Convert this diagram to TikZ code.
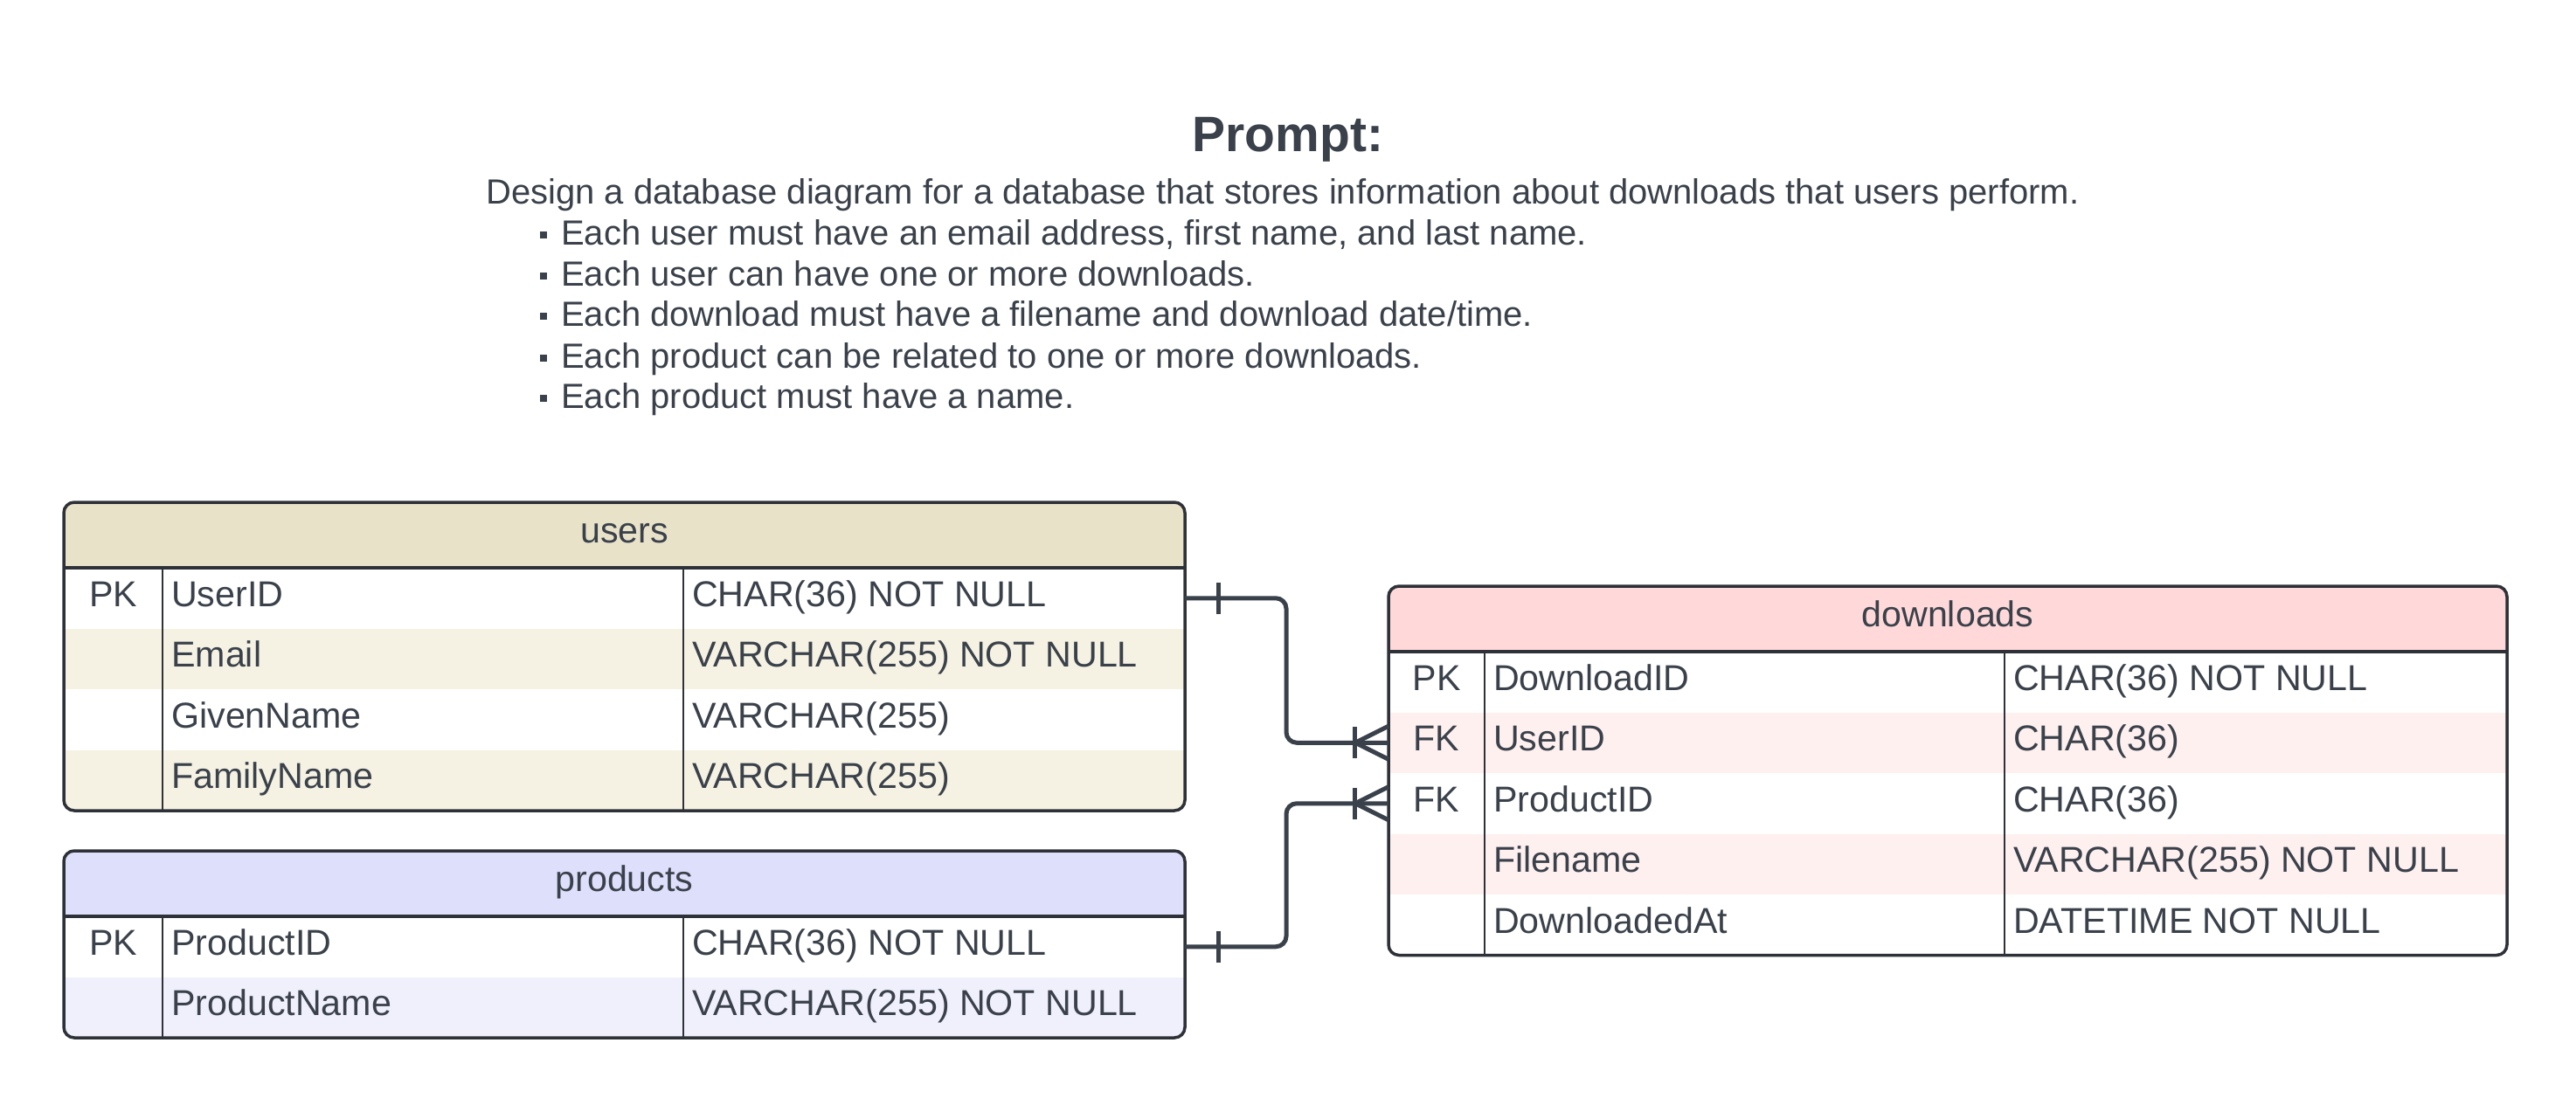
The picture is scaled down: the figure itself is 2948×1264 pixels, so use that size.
\documentclass[tikz,border=0pt]{standalone}
\usepackage{fontspec}
\setmainfont{Liberation Sans}
\usetikzlibrary{calc}
\definecolor{ink}{HTML}{3A414A}
\definecolor{edge}{HTML}{2E3238}
\definecolor{uhead}{HTML}{E8E2C9}
\definecolor{urow}{HTML}{F5F2E3}
\definecolor{phead}{HTML}{DEDFFB}
\definecolor{prow}{HTML}{F0F0FD}
\definecolor{dhead}{HTML}{FFD9D9}
\definecolor{drow}{HTML}{FFF0F0}
\newcommand\tbframe[9]{% #1 left #2 col1 #3 col2 #4 right #5 top #6 bottom #7 head colour #8 alt colour #9 alt rows
  \begin{scope}
    \clip[rounded corners=12pt] (#1,#5) rectangle (#4,#6);
    \fill[white] (#1,#5) rectangle (#4,#6);
    \fill[#7] (#1,#5) rectangle (#4,#5+75);
    \foreach \r in {#9} {\fill[#8] (#1,{#5+75+69.5*(\r-1)}) rectangle (#4,{#5+75+69.5*\r});}
  \end{scope}
  \draw[colline] (#2,#5+75) -- (#2,#6);
  \draw[colline] (#3,#5+75) -- (#3,#6);
  \draw[headline] (#1,#5+75) -- (#4,#5+75);
  \draw[frame] (#1,#5) rectangle (#4,#6);
}
\begin{document}
\begin{tikzpicture}[x=1pt,y=-1pt,
  txt/.style={inner sep=0pt, text=ink, font=\fontsize{41.2}{48}\selectfont},
  body/.style={inner sep=0pt, text=ink, font=\fontsize{40}{47}\selectfont, anchor=base west},
  frame/.style={draw=edge, line width=3.5pt, rounded corners=12pt},
  colline/.style={draw=edge, line width=2.5pt},
  headline/.style={draw=edge, line width=4pt},
  rowbox/.style={inner sep=0pt, outer sep=0pt, minimum height=69.5pt, anchor=north west},
  link/.style={draw=ink, line width=5pt, rounded corners=12pt},
  tickmark/.style={draw=ink, line width=5pt}]
\useasboundingbox (0,0) rectangle (2948,1264);
\fill[white] (0,0) rectangle (2948,1264);

% Prompt
\node[inner sep=0pt, text=ink, font=\fontsize{57}{64}\selectfont\bfseries, anchor=base] (title) at (1474,173) {Prompt:};
\node[body] (p0) at (556,233) {Design a database diagram for a database that stores information about downloads that users perform.};
\node[body] (p1) at (618,280) {\rule[7pt]{8pt}{8pt}\hspace{16pt}Each user must have an email address, first name, and last name.};
\node[body] (p2) at (618,327) {\rule[7pt]{8pt}{8pt}\hspace{16pt}Each user can have one or more downloads.};
\node[body] (p3) at (618,373) {\rule[7pt]{8pt}{8pt}\hspace{16pt}Each download must have a filename and download date/time.};
\node[body] (p4) at (618,421) {\rule[7pt]{8pt}{8pt}\hspace{16pt}Each product can be related to one or more downloads.};
\node[body] (p5) at (618,467) {\rule[7pt]{8pt}{8pt}\hspace{16pt}Each product must have a name.};

% users table
\tbframe{73}{186}{782}{1356}{575}{928}{uhead}{urow}{2,4}
\foreach \i in {1,...,4} {\node[rowbox, minimum width=1283pt] (u\i) at (73,{650+69.5*(\i-1)}) {};}
\node[txt, anchor=base] (uh) at (714.5,621) {users};
\node[txt, anchor=base] (u1k) at (129.5,694) {PK};
\node[txt, anchor=base west] (u1n) at (196,694) {UserID};
\node[txt, anchor=base west] (u1t) at (792,694) {CHAR(36) NOT NULL};
\node[txt, anchor=base west] (u2n) at (196,763.5) {Email};
\node[txt, anchor=base west] (u2t) at (792,763.5) {VARCHAR(255) NOT NULL};
\node[txt, anchor=base west] (u3n) at (196,833) {GivenName};
\node[txt, anchor=base west] (u3t) at (792,833) {VARCHAR(255)};
\node[txt, anchor=base west] (u4n) at (196,902.5) {FamilyName};
\node[txt, anchor=base west] (u4t) at (792,902.5) {VARCHAR(255)};

% products table
\tbframe{73}{186}{782}{1356}{974}{1188}{phead}{prow}{2}
\foreach \i in {1,2} {\node[rowbox, minimum width=1283pt] (pr\i) at (73,{1049+69.5*(\i-1)}) {};}
\node[txt, anchor=base] (ph) at (714.5,1020) {products};
\node[txt, anchor=base] (pr1k) at (129.5,1093) {PK};
\node[txt, anchor=base west] (pr1n) at (196,1093) {ProductID};
\node[txt, anchor=base west] (pr1t) at (792,1093) {CHAR(36) NOT NULL};
\node[txt, anchor=base west] (pr2n) at (196,1162.5) {ProductName};
\node[txt, anchor=base west] (pr2t) at (792,1162.5) {VARCHAR(255) NOT NULL};

% downloads table
\tbframe{1589}{1699}{2294}{2869}{671}{1093.5}{dhead}{drow}{2,4}
\foreach \i in {1,...,5} {\node[rowbox, minimum width=1280pt] (d\i) at (1589,{746+69.5*(\i-1)}) {};}
\node[txt, anchor=base] (dh) at (2229,717) {downloads};
\node[txt, anchor=base] (d1k) at (1644,790) {PK};
\node[txt, anchor=base west] (d1n) at (1709,790) {DownloadID};
\node[txt, anchor=base west] (d1t) at (2304,790) {CHAR(36) NOT NULL};
\node[txt, anchor=base] (d2k) at (1644,859.5) {FK};
\node[txt, anchor=base west] (d2n) at (1709,859.5) {UserID};
\node[txt, anchor=base west] (d2t) at (2304,859.5) {CHAR(36)};
\node[txt, anchor=base] (d3k) at (1644,929) {FK};
\node[txt, anchor=base west] (d3n) at (1709,929) {ProductID};
\node[txt, anchor=base west] (d3t) at (2304,929) {CHAR(36)};
\node[txt, anchor=base west] (d4n) at (1709,998.5) {Filename};
\node[txt, anchor=base west] (d4t) at (2304,998.5) {VARCHAR(255) NOT NULL};
\node[txt, anchor=base west] (d5n) at (1709,1068) {DownloadedAt};
\node[txt, anchor=base west] (d5t) at (2304,1068) {DATETIME NOT NULL};

% connectors
\draw[link] (u1.east) -- ++(116,0) |- (d2.west);
\draw[link] (pr1.east) -- ++(116,0) |- (d3.west);
% one-marks
\draw[tickmark] ($(u1.east)+(38,-18)$) -- ++(0,36);
\draw[tickmark] ($(pr1.east)+(38,-18)$) -- ++(0,36);
% crow's feet with bar
\foreach \n in {d2,d3} {
  \draw[tickmark] ($(\n.west)+(-39,-18)$) -- ++(0,36);
  \draw[tickmark, line join=miter] ($(\n.west)+(0,-19)$) -- ($(\n.west)+(-38,0)$) -- ($(\n.west)+(0,19)$);
}
\end{tikzpicture}
\end{document}
